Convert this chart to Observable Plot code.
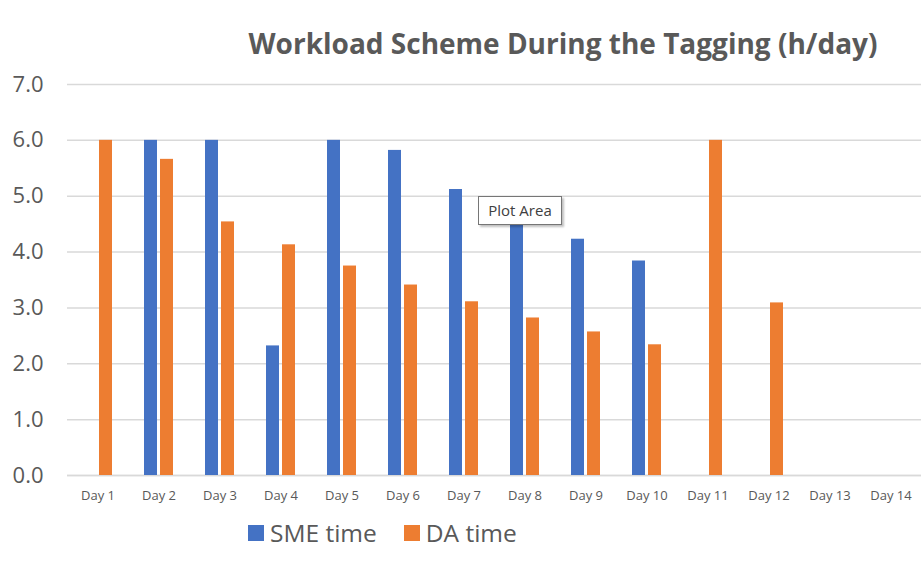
<!DOCTYPE html>
<html>
<head>
<meta charset="utf-8">
<script src="https://cdn.jsdelivr.net/npm/d3@7"></script>
<script src="https://cdn.jsdelivr.net/npm/@observablehq/plot@0.6"></script>
<style>
  html, body { margin: 0; padding: 0; background: #fff; }
  #wrap { position: relative; width: 921px; height: 564px; overflow: hidden; font-family: "Open Sans", sans-serif; color: #595959; }
  #title { position: absolute; left: 0; width: 1126px; top: 24px; text-align: center; font-weight: 700; font-size: 28px; color: #595959; white-space: nowrap; }
  #chart { position: absolute; left: 0; top: 0; }
  #legend { position: absolute; left: 248px; top: 516px; display: flex; align-items: center; font-size: 24.5px; color: #595959; }
  #legend .item { display: flex; align-items: center; margin-right: 27px; }
  #legend .sw { width: 16px; height: 16px; margin-right: 6px; }
  #tip { position: absolute; left: 478px; top: 196px; width: 84px; height: 29px; box-sizing: border-box; border: 1px solid #767676; background: #fff; box-shadow: 2px 2px 2px rgba(0,0,0,0.25); font-size: 15px; color: #404040; line-height: 27px; text-align: center; }
</style>
</head>
<body>
<div id="wrap">
  <div id="chart"></div>
  <div id="title">Workload Scheme During the Tagging (h/day)</div>
  <div id="legend"></div>
  <div id="tip">Plot Area</div>
</div>
<script>
const days = ["Day 1","Day 2","Day 3","Day 4","Day 5","Day 6","Day 7","Day 8","Day 9","Day 10","Day 11","Day 12","Day 13","Day 14"];
const seriesNames = ["SME time", "DA time"];
const seriesColors = ["#4472C4", "#ED7D31"];
const smeTime = [null, 6.0, 6.0, 2.32, 6.0, 5.82, 5.12, 4.65, 4.23, 3.84, null, null, null, null];
const daTime  = [6.0, 5.66, 4.54, 4.13, 3.75, 3.41, 3.11, 2.82, 2.57, 2.34, 6.0, 3.09, null, null];
const yTicks = [0, 1, 2, 3, 4, 5, 6, 7];

const rows = [];
days.forEach((d, i) => {
  if (smeTime[i] != null) rows.push({day: d, series: seriesNames[0], value: smeTime[i]});
  if (daTime[i] != null) rows.push({day: d, series: seriesNames[1], value: daTime[i]});
});

const chart = Plot.plot({
  width: 921,
  height: 510,
  marginTop: 84,
  marginBottom: 35,
  marginLeft: 66,
  marginRight: 0,
  style: { fontFamily: "Open Sans, sans-serif", color: "#595959", background: "transparent" },
  fx: { domain: days, paddingInner: 0, paddingOuter: 0, label: null },
  x: { domain: seriesNames, paddingInner: 0.18, paddingOuter: 0.885, axis: null },
  y: { domain: [0, 7], label: null },
  color: { domain: seriesNames, range: seriesColors },
  marks: [
    Plot.gridY(yTicks, { stroke: "#d9d9d9", strokeOpacity: 1, strokeWidth: 1.5 }),
    Plot.ruleY(days, { fx: d => d, y: 0, stroke: "#d9d9d9", strokeWidth: 1.5 }),
    Plot.barY(rows, { fx: "day", x: "series", y: "value", fill: "series" }),
    Plot.axisY(yTicks, { tickSize: 0, tickPadding: 24, tickFormat: d3.format(".1f"), fontSize: 22, fill: "#595959", label: null }),
    Plot.axisFx({ anchor: "bottom", tickSize: 0, tickPadding: 15, fontSize: 13, fill: "#595959", label: null, fontFamily: "Liberation Sans Narrow, Open Sans, sans-serif" })
  ]
});
document.getElementById("chart").appendChild(chart);

const legend = document.getElementById("legend");
seriesNames.forEach((s, i) => {
  const item = document.createElement("div");
  item.className = "item";
  const sw = document.createElement("div");
  sw.className = "sw";
  sw.style.background = seriesColors[i];
  const lab = document.createElement("span");
  lab.textContent = s;
  item.appendChild(sw);
  item.appendChild(lab);
  legend.appendChild(item);
});
</script>
</body>
</html>
